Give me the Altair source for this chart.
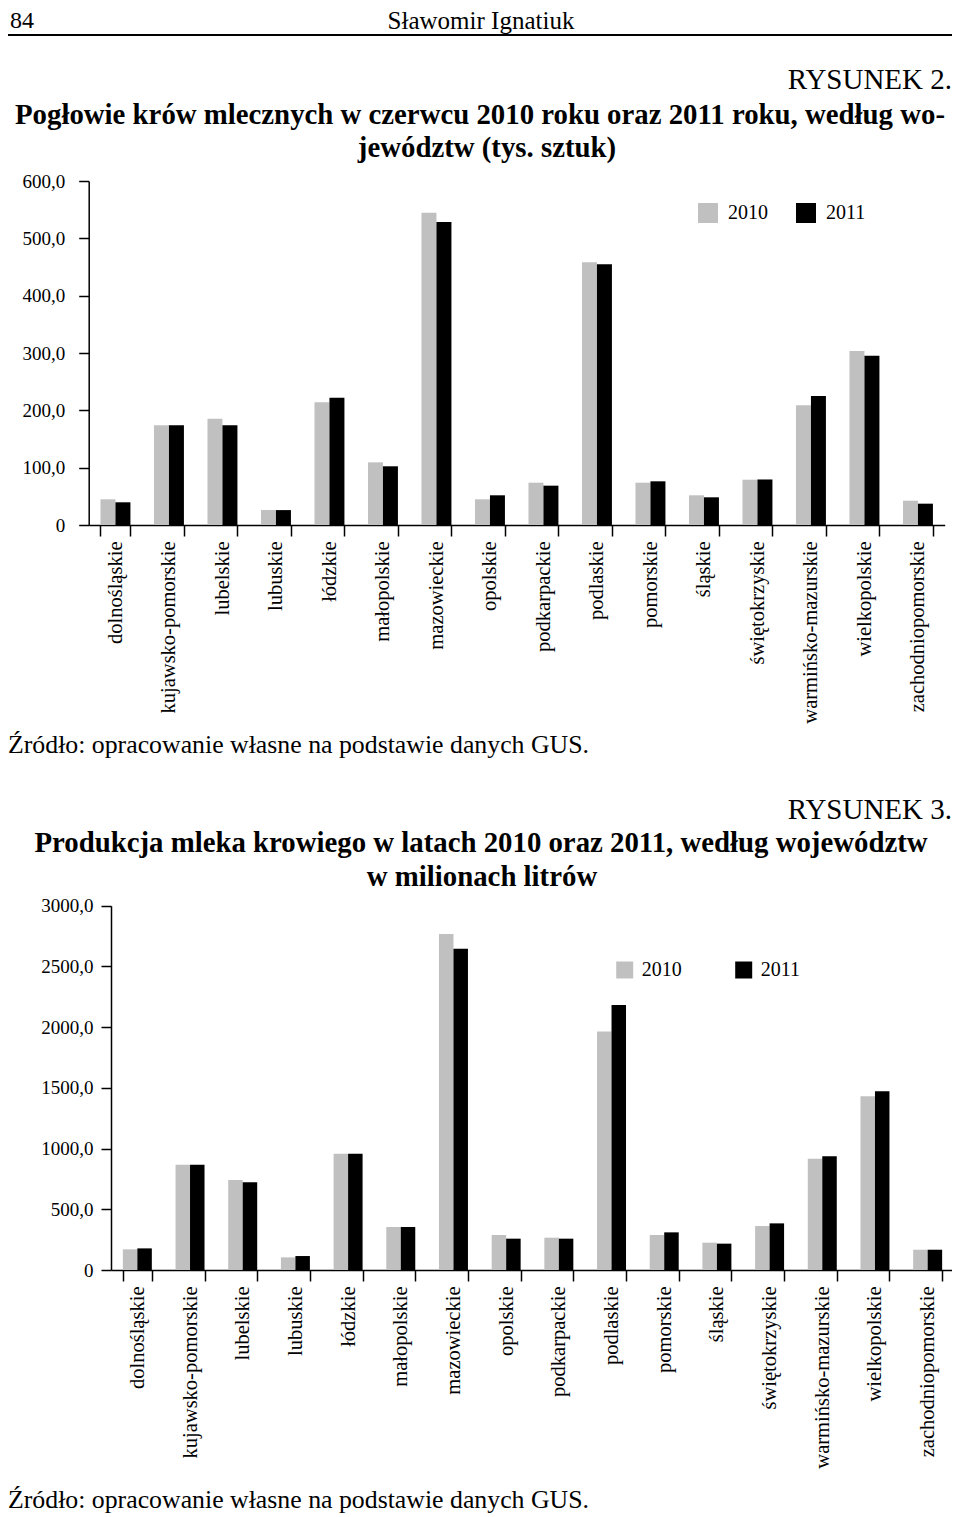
import altair as alt
import pandas as pd

woj = ["dolnośląskie", "kujawsko-pomorskie", "lubelskie", "lubuskie", "łódzkie",
       "małopolskie", "mazowieckie", "opolskie", "podkarpackie", "podlaskie",
       "pomorskie", "śląskie", "świętokrzyskie", "warmińsko-mazurskie",
       "wielkopolskie", "zachodniopomorskie"]
years = ["2010", "2011"]
cows_2010 = [44.8, 174.0, 185.5, 26.2, 214.0, 109.3, 544.8, 44.8, 73.8, 458.2, 73.8, 51.8, 79.0, 208.8, 303.5, 42.4]
cows_2011 = [39.6, 174.0, 174.0, 26.0, 222.0, 102.4, 528.5, 51.8, 68.6, 454.7, 76.2, 48.3, 79.4, 225.0, 295.3, 37.2]
milk_2010 = [170, 867, 741, 104, 958, 354, 2767, 288, 266, 1965, 288, 225, 362, 917, 1430, 167]
milk_2011 = [178, 867, 722, 115, 958, 354, 2646, 258, 258, 2182, 310, 217, 384, 936, 1471, 167]
cows_ticks = [0, 100, 200, 300, 400, 500, 600]
milk_ticks = [0, 500, 1000, 1500, 2000, 2500, 3000]

header_left = "84"
header_center = "Sławomir Ignatiuk"
fig2_label = "RYSUNEK 2."
fig2_title = ["Pogłowie krów mlecznych w czerwcu 2010 roku oraz 2011 roku, według wo-",
              "jewództw (tys. sztuk)"]
fig3_label = "RYSUNEK 3."
fig3_title = ["Produkcja mleka krowiego w latach 2010 oraz 2011, według województw",
              "w milionach litrów"]
source = "Źródło: opracowanie własne na podstawie danych GUS."

def long(v10, v11):
    rows = []
    for w, a, b in zip(woj, v10, v11):
        rows.append({"woj": w, "rok": "2010", "val": a})
        rows.append({"woj": w, "rok": "2011", "val": b})
    return pd.DataFrame(rows)

df_cows = long(cows_2010, cows_2011)
df_milk = long(milk_2010, milk_2011)

W, H = 944, 1509
SERIF = "Liberation Serif"
LBL = "datum.value == 0 ? '0' : replace(format(datum.value, '.1f'), '.', ',')"

def bars(df, xr, yr, dom, ticks, pin, ylabpad, leg_x, leg_y, sym, loff, colpad):
    x_axis = alt.Axis(orient="bottom", offset=yr[0] - H, title=None, labelAngle=-90,
                      tickBand="extent", tickSize=11, tickWidth=1.5, domainWidth=1.5,
                      domainColor="black", tickColor="black", labelFont=SERIF,
                      labelFontSize=20.5, labelColor="black", labelPadding=5, labelLimit=300)
    y_axis = alt.Axis(orient="left", offset=-xr[0], title=None, values=ticks, labelExpr=LBL,
                      grid=False, tickSize=10, tickWidth=1.5, domainWidth=1.5,
                      domainColor="black", tickColor="black", labelFont=SERIF,
                      labelFontSize=19, labelColor="black", labelPadding=ylabpad)
    return alt.Chart(df).mark_bar().encode(
        x=alt.X("woj:N", sort=woj, axis=x_axis,
                scale=alt.Scale(range=xr, paddingInner=pin, paddingOuter=pin / 2)),
        xOffset=alt.XOffset("rok:N", sort=years, scale=alt.Scale(paddingInner=0, paddingOuter=0)),
        y=alt.Y("val:Q", axis=y_axis, scale=alt.Scale(domain=dom, range=yr, nice=False)),
        color=alt.Color("rok:N", sort=years,
                        scale=alt.Scale(domain=years, range=["#c0c0c0", "#000000"]),
                        legend=alt.Legend(orient="none", legendX=leg_x, legendY=leg_y,
                                          direction="horizontal", title=None,
                                          symbolType="square", symbolSize=sym * sym,
                                          symbolStrokeWidth=0, labelFont=SERIF,
                                          labelFontSize=20, labelColor="black",
                                          labelOffset=loff, columnPadding=colpad)),
    )

chart1 = bars(df_cows, [80.7, 936.7], [517, 173], [0, 600], cows_ticks, 0.44, 14,
              690, 195, 20, 10, 28)
chart2 = bars(df_milk, [103, 946], [1262, 897.7], [0, 3000], milk_ticks, 0.45, 8,
              606.7, 952, 17, 7, 52)

def txt(s, x, y, size, align="left", weight="normal"):
    return alt.Chart(pd.DataFrame({"t": [s]})).mark_text(
        font=SERIF, fontSize=size, fontWeight=weight, align=align, baseline="middle",
        color="black"
    ).encode(text="t:N", x=alt.value(x), y=alt.value(y))

texts = [
    txt(header_left, 2, 12.5, 24),
    txt(header_center, 473, 12.5, 25, align="center"),
    txt(fig2_label, 944, 72, 29, align="right"),
    txt(fig2_title[0], 472, 107, 28.8, align="center", weight="bold"),
    txt(fig2_title[1], 479, 140, 28.8, align="center", weight="bold"),
    txt(source, 0, 737, 25.8),
    txt(fig3_label, 944, 802, 29, align="right"),
    txt(fig3_title[0], 473, 835, 28.8, align="center", weight="bold"),
    txt(fig3_title[1], 474, 869, 28.8, align="center", weight="bold"),
    txt(source, 0, 1492, 25.8),
]

rule = alt.Chart(pd.DataFrame({"a": [0]})).mark_rule(color="black", strokeWidth=2).encode(
    x=alt.value(-8), x2=alt.value(W + 8), y=alt.value(27))

chart = alt.layer(chart1, chart2, rule, *texts).resolve_scale(
    x="independent", y="independent", xOffset="independent", color="independent"
).resolve_axis(x="independent", y="independent").resolve_legend(color="independent").properties(
    width=W, height=H, autosize=alt.AutoSizeParams(type="none"), padding=0
).configure_view(strokeOpacity=0)

chart.save("out.html", embed_options={"renderer": "svg", "actions": False})
